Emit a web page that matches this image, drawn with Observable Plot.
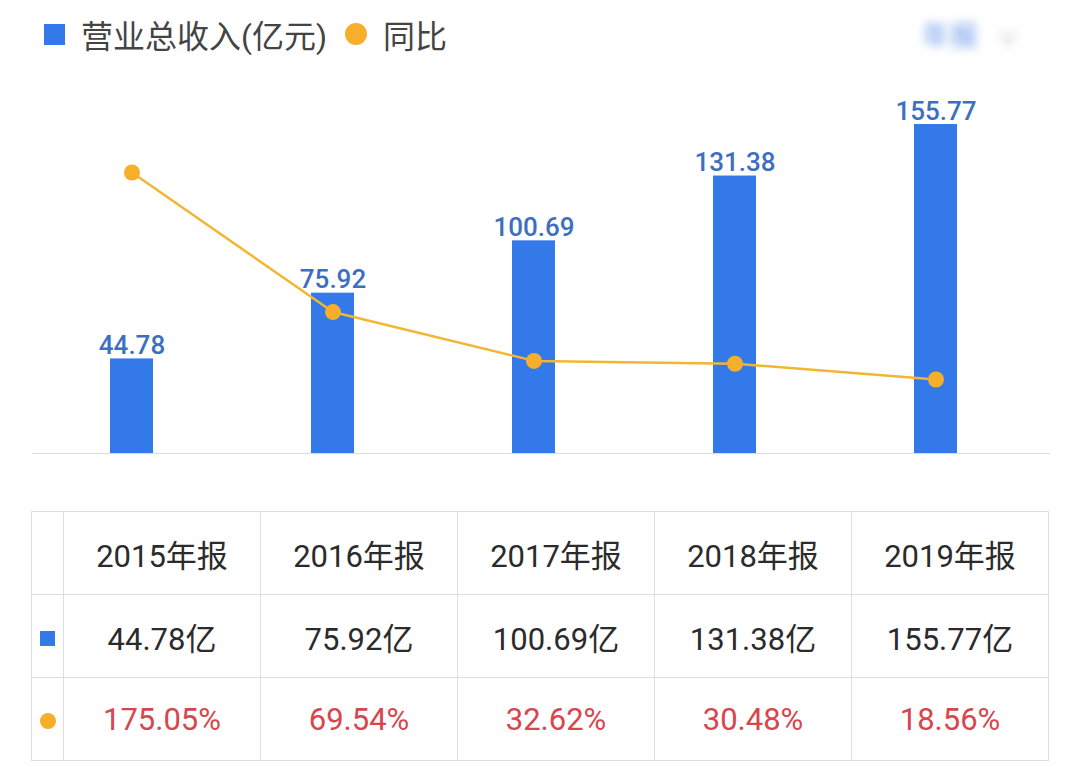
<!DOCTYPE html>
<html>
<head>
<meta charset="utf-8">
<script src="https://cdn.jsdelivr.net/npm/d3@7"></script>
<script src="https://cdn.jsdelivr.net/npm/@observablehq/plot@0.6"></script>
<style>
  html, body { margin: 0; padding: 0; background: #fff; }
  body { width: 1080px; height: 767px; position: relative; overflow: hidden;
         font-family: Roboto, "Noto Sans CJK SC", sans-serif; }
  #legend { position: absolute; left: 44px; top: 12px; height: 44px; display: flex; align-items: center;
            font-size: 32px; color: #444; }
  #legend .sq { width: 21px; height: 21px; background: #3379e9; margin-right: 16px; }
  #legend .ci { width: 22px; height: 22px; border-radius: 50%; background: #f7ae2a; margin: 0 16px 0 18px; }
  #blur { position: absolute; left: 922px; top: 14px; font-size: 28px; color: #6a9be8; filter: blur(5px); }
  #blur span { margin-left: 20px; color: #aab; font-size: 20px; }
  .layer { position: absolute; left: 0; top: 0; }
  table { position: absolute; left: 31px; top: 511px; border-collapse: collapse; table-layout: fixed; }
  td { border: 1px solid #dedede; height: 82px; padding: 0; text-align: center; font-size: 31px; color: #2b2b2b; }
  td.key { width: 31px; }
  td.c { width: 196px; }
  tr.pct td { color: #d9454d; }
  .k-sq { display: inline-block; width: 15px; height: 15px; background: #3379e9; vertical-align: middle; }
  .k-ci { display: inline-block; width: 16px; height: 16px; border-radius: 50%; background: #f7ae2a; vertical-align: middle; }
</style>
</head>
<body>
<div id="legend"></div>
<div id="blur">年报<span>∨</span></div>
<div id="chart"></div>
<table id="tbl"></table>
<script>
// ---- data ----
const periods = ["2015年报", "2016年报", "2017年报", "2018年报", "2019年报"];
const revenue = [44.78, 75.92, 100.69, 131.38, 155.77];
const yoy = [175.05, 69.54, 32.62, 30.48, 18.56];
const seriesNames = ["营业总收入(亿元)", "同比"];
const revenueUnit = "亿";

const data = periods.map((p, i) => ({period: p, revenue: revenue[i], yoy: yoy[i]}));

// ---- legend ----
const legend = document.getElementById("legend");
legend.innerHTML = `<div class="sq"></div><span>${seriesNames[0]}</span><div class="ci"></div><span>${seriesNames[1]}</span>`;

// ---- chart ----
const W = 1080, H = 480;
const xScale = {type: "band", domain: periods, range: [29.1, 1037.9], padding: 0, axis: null};

const bars = Plot.plot({
  width: W, height: H,
  marginTop: 0, marginBottom: 27, marginLeft: 32, marginRight: 30,
  x: xScale,
  y: {domain: [0, 214.5], axis: null},
  style: {background: "transparent", fontFamily: "Roboto, 'Noto Sans CJK SC', sans-serif"},
  marks: [
    Plot.ruleY([0], {stroke: "#dcdcdc", strokeWidth: 1}),
    Plot.barY(data, {x: "period", y: "revenue", fill: "#3379e9", insetLeft: 79, insetRight: 79}),
    Plot.text(data, {x: "period", y: "revenue", text: d => d.revenue.toFixed(2), dy: -13,
      fill: "#3d6fc0", fontSize: 26, fontWeight: 500, lineAnchor: "middle"})
  ]
});
bars.classList.add("layer");

const line = Plot.plot({
  width: W, height: H,
  marginTop: 0, marginBottom: 27, marginLeft: 32, marginRight: 30,
  x: xScale,
  y: {domain: [-37.38, 305.08], axis: null},
  style: {background: "transparent"},
  marks: [
    Plot.line(data, {x: "period", y: "yoy", stroke: "#f2b632", strokeWidth: 2.5}),
    Plot.dot(data, {x: "period", y: "yoy", fill: "#f7ae2a", r: 8})
  ]
});
line.classList.add("layer");

const chart = document.getElementById("chart");
chart.appendChild(bars);
chart.appendChild(line);

// ---- table ----
const tbl = document.getElementById("tbl");
let html = `<tr><td class="key"></td>${periods.map(p => `<td class="c">${p}</td>`).join("")}</tr>`;
html += `<tr><td class="key"><span class="k-sq"></span></td>${revenue.map(v => `<td>${v.toFixed(2)}${revenueUnit}</td>`).join("")}</tr>`;
html += `<tr class="pct"><td class="key"><span class="k-ci"></span></td>${yoy.map(v => `<td>${v.toFixed(2)}%</td>`).join("")}</tr>`;
tbl.innerHTML = html;
</script>
</body>
</html>
